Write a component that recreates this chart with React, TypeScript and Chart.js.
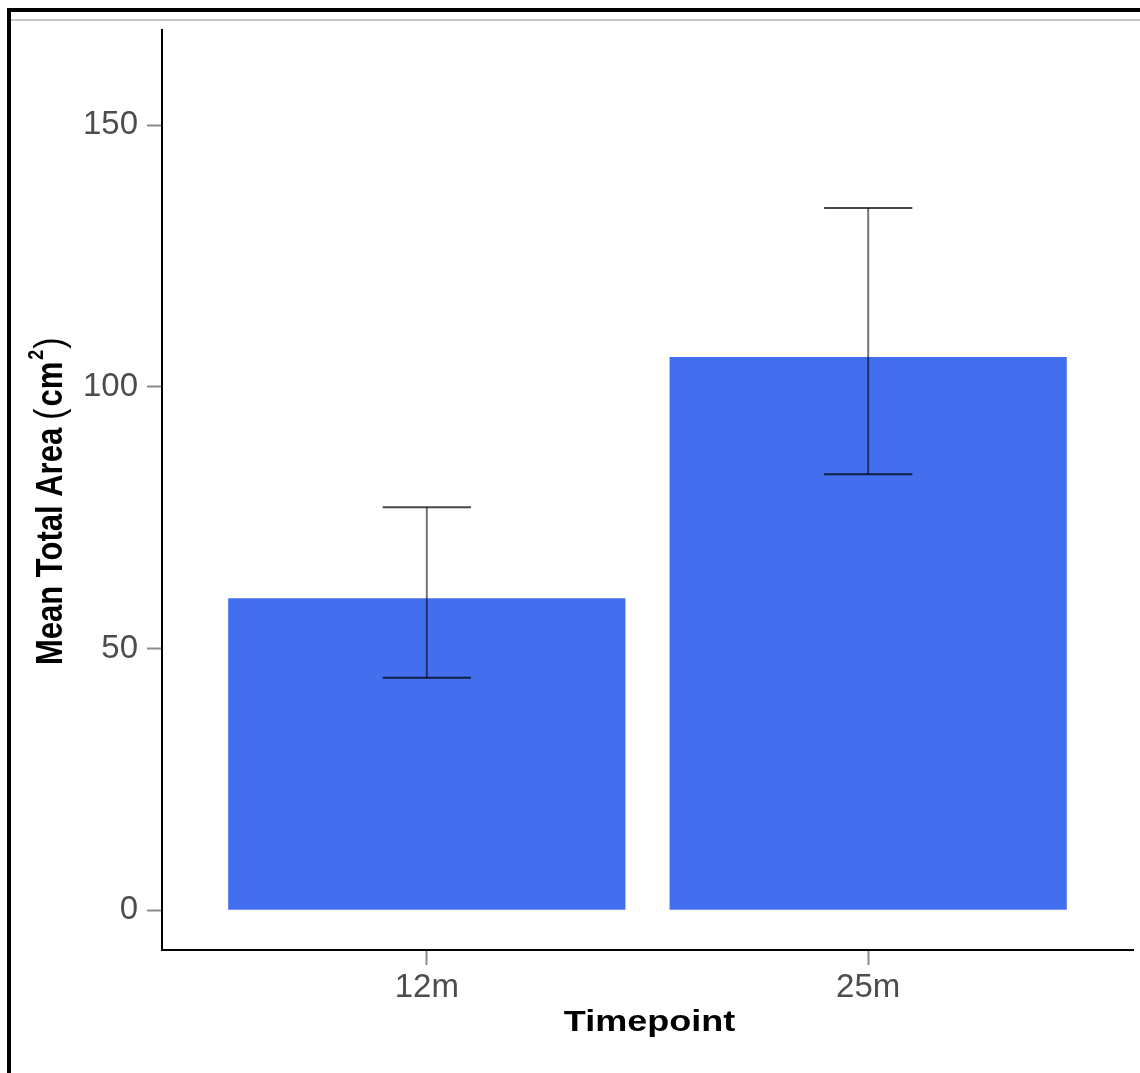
import React, { useEffect, useRef } from "react";
import { Chart, registerables } from "chart.js";

Chart.register(...registerables);

// ---- data ----
const categories = ["12m", "25m"];
const categoryPositions = [1, 2];
const meanArea = [59.6, 105.7];
const errorLower = [44.4, 83.3];
const errorUpper = [77.0, 134.2];
const yTickValues = [0, 50, 100, 150];
const yTitleMain = "Mean Total Area";
const yTitleUnit = "cm";
const yTitleExp = "2";
const xTitleText = "Timepoint";

const FONT = '"Liberation Sans", Arial, sans-serif';

const errorBarPlugin = {
  id: "errorBars",
  afterDatasetsDraw(chart: any) {
    const { ctx, scales } = chart;
    const xs = scales.x;
    const ys = scales.y;
    ctx.save();
    ctx.lineWidth = 2;
    ctx.lineCap = "butt";
    for (let i = 0; i < categoryPositions.length; i++) {
      const p = categoryPositions[i];
      const px = xs.getPixelForValue(p);
      const pl = xs.getPixelForValue(p - 0.1);
      const pr = xs.getPixelForValue(p + 0.1);
      const yt = ys.getPixelForValue(errorUpper[i]);
      const yb = ys.getPixelForValue(errorLower[i]);
      ctx.strokeStyle = "rgba(0,0,0,0.55)";
      ctx.beginPath();
      ctx.moveTo(px, yt);
      ctx.lineTo(px, yb);
      ctx.stroke();
      ctx.strokeStyle = "rgba(0,0,0,0.72)";
      ctx.beginPath();
      ctx.moveTo(pl, yt);
      ctx.lineTo(pr, yt);
      ctx.moveTo(pl, yb);
      ctx.lineTo(pr, yb);
      ctx.stroke();
    }
    ctx.restore();
  },
};

const titlePlugin = {
  id: "axisTitles",
  afterDraw(chart: any) {
    const { ctx, chartArea } = chart;
    // x title
    ctx.save();
    const xc = (chartArea.left + chartArea.right) / 2 + 2;
    ctx.translate(xc, 1031);
    ctx.scale(1.2, 1);
    ctx.font = `bold 30px ${FONT}`;
    ctx.fillStyle = "#000";
    ctx.textAlign = "center";
    ctx.textBaseline = "alphabetic";
    ctx.fillText(xTitleText, 0, 0);
    ctx.restore();

    // y title (rotated, with superscript)
    ctx.save();
    const fs = 31;
    const boldF = `bold ${fs}px ${FONT}`;
    const regF = `34px ${FONT}`;
    const supF = `bold 18px ${FONT}`;
    ctx.font = boldF;
    const wMain = ctx.measureText(yTitleMain).width;
    const wUnit = ctx.measureText(yTitleUnit).width;
    ctx.font = regF;
    const wParen = ctx.measureText("(").width;
    ctx.font = supF;
    const wExp = ctx.measureText(yTitleExp).width;
    const gap = 8;
    const total = wMain + gap + wParen + 2 + wUnit + 2 + wExp + 1 + wParen;
    const start = 665;
    ctx.translate(62, start - total / 2);
    ctx.scale(1.2, 1);
    ctx.rotate(-Math.PI / 2);
    ctx.fillStyle = "#000";
    ctx.textAlign = "left";
    ctx.textBaseline = "alphabetic";
    let u = -total / 2;
    ctx.font = boldF;
    ctx.fillText(yTitleMain, u, 0);
    u += wMain + gap;
    ctx.font = regF;
    ctx.fillText("(", u, 1);
    u += wParen + 2;
    ctx.font = boldF;
    ctx.fillText(yTitleUnit, u, 0);
    u += wUnit + 2;
    ctx.font = supF;
    ctx.fillText(yTitleExp, u, -16);
    u += wExp + 1;
    ctx.font = regF;
    ctx.fillText(")", u, 1);
    ctx.restore();
  },
};

export default function App() {
  const canvasRef = useRef<HTMLCanvasElement | null>(null);

  useEffect(() => {
    const canvas = canvasRef.current;
    if (!canvas) return;
    const tickFont = { family: FONT, size: 33 };
    const chart = new Chart(canvas, {
      type: "bar",
      data: {
        datasets: [
          {
            data: categoryPositions.map((p, i) => ({ x: p, y: meanArea[i] })),
            backgroundColor: "#436EEE",
            borderWidth: 0,
            barPercentage: 0.9,
            categoryPercentage: 1,
          } as any,
        ],
      },
      options: {
        responsive: false,
        animation: false,
        devicePixelRatio: 1,
        layout: { padding: { top: 30, right: 7, bottom: 0, left: 0 } },
        plugins: {
          legend: { display: false },
          tooltip: { enabled: false },
        },
        scales: {
          x: {
            type: "linear",
            min: 0.4,
            max: 2.6,
            offset: false,
            afterBuildTicks: (s: any) => {
              s.ticks = categoryPositions.map((v) => ({ value: v }));
            },
            afterFit: (s: any) => {
              s.height = 123;
            },
            ticks: {
              callback: (_v: any, idx: number) => categories[idx],
              font: tickFont,
              color: "#4d4d4d",
              padding: 3,
              maxRotation: 0,
              autoSkip: false,
            },
            grid: {
              display: true,
              drawOnChartArea: false,
              drawTicks: true,
              tickLength: 15,
              tickColor: "#8c8c8c",
              tickWidth: 2,
              offset: false,
            },
            border: { display: true, color: "#000", width: 2 },
          },
          y: {
            type: "linear",
            min: -7.6,
            max: 168.2,
            afterBuildTicks: (s: any) => {
              s.ticks = yTickValues.map((v) => ({ value: v }));
            },
            afterFit: (s: any) => {
              s.width = 162;
            },
            ticks: {
              callback: (v: any) => String(v),
              font: tickFont,
              color: "#4d4d4d",
              padding: 9,
              autoSkip: false,
            },
            grid: {
              display: true,
              drawOnChartArea: false,
              drawTicks: true,
              tickLength: 15,
              tickColor: "#8c8c8c",
              tickWidth: 2,
            },
            border: { display: true, color: "#000", width: 2 },
          },
        } as any,
      },
      plugins: [errorBarPlugin, titlePlugin],
    } as any);
    return () => chart.destroy();
  }, []);

  return (
    <div>
      <div
        style={{
          position: "absolute",
          left: 7,
          top: 8,
          width: 1133,
          height: 1065,
          boxSizing: "border-box",
          borderTop: "4px solid #000",
          borderLeft: "4px solid #000",
        }}
      />
      <div
        style={{
          position: "absolute",
          left: 11,
          top: 19,
          width: 1129,
          height: 2,
          background: "#c4c4c4",
        }}
      />
      <canvas
        ref={canvasRef}
        width={1140}
        height={1073}
        style={{ position: "absolute", left: 0, top: 0, width: 1140, height: 1073 }}
      />
    </div>
  );
}
